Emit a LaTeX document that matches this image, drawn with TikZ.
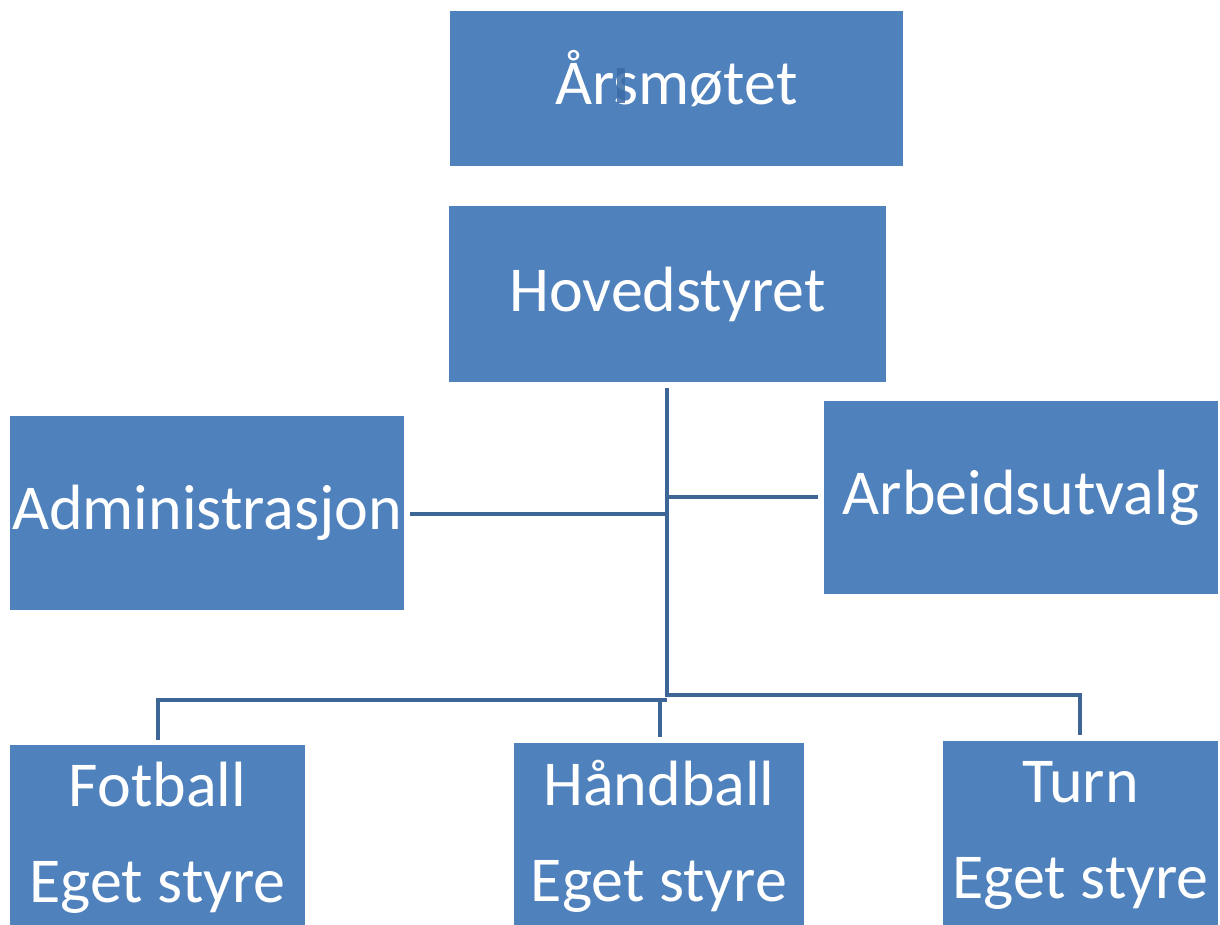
\documentclass[tikz,border=0pt]{standalone}
\usepackage{fontspec}
\setmainfont{Carlito}
\definecolor{boxblue}{HTML}{4F81BD}
\definecolor{lineblue}{HTML}{3D6596}
\definecolor{markblue}{HTML}{3A6BA6}
\begin{document}
\begin{tikzpicture}[x=1pt,y=-1pt,
  box/.style={fill=boxblue, draw=none, text=white, inner sep=0pt, align=center,
    font=\fontsize{64}{96}\selectfont},
  conn/.style={draw=lineblue, line width=4.5pt}]
\useasboundingbox (0,0) rectangle (1220,924);
\node[box, minimum width=453pt, minimum height=155pt] (ars) at (676.5,88.5) {\raisebox{-15.5pt}[0pt][0pt]{Årsmøtet}};
\fill[markblue, opacity=0.85] (617,68) rectangle (625,103);
\node[box, minimum width=437pt, minimum height=176pt] (hov) at (667.5,294) {Hovedstyret};
\node[box, minimum width=394pt, minimum height=194pt] (adm) at (207,513) {Administrasjon};
\node[box, minimum width=394pt, minimum height=193pt] (arb) at (1021,497.5) {Arbeidsutvalg};
\node[box, minimum width=295pt, minimum height=185pt] (fot) at (157.5,837.5) {Fotball\\Eget styre};
\node[box, minimum width=290pt, minimum height=187pt] (hand) at (659,836.5) {Håndball\\Eget styre};
\node[box, minimum width=275pt, minimum height=189pt] (turn) at (1080.5,835.5) {Turn\\Eget styre};
% junction coordinates
\coordinate (top) at (667,388);
\coordinate (bot) at (667,697);
\coordinate (admj) at (667,514);
\coordinate (admE) at (410,514);
\coordinate (arbj) at (669,497);
\coordinate (arbW) at (818,497);
\coordinate (fj) at (667,700);
\coordinate (fE) at (158,740);
\coordinate (hj) at (660,700);
\coordinate (hE) at (660,737);
\coordinate (tj) at (667,695);
\coordinate (tE) at (1080,735);
\draw[conn] (top) -- (bot);
\draw[conn] (admE) -- (admj);
\draw[conn] (arbj) -- (arbW);
\draw[conn] (fj) -| (fE);
\draw[conn] (hj) -- (hE);
\draw[conn] (tj) -| (tE);
\end{tikzpicture}
\end{document}
